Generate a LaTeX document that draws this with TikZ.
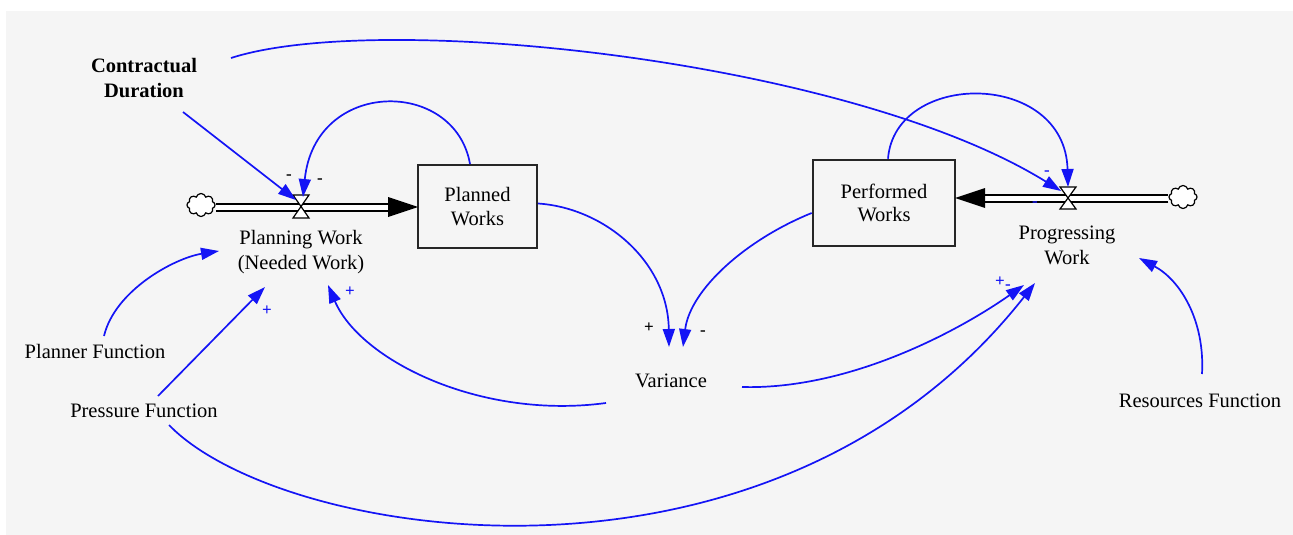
\documentclass[tikz,border=0pt]{standalone}
\usepackage{fontspec}
\setmainfont{Liberation Serif}
\usetikzlibrary{arrows.meta,shapes.symbols,calc}
\definecolor{bggray}{RGB}{245,245,245}
\definecolor{lnkblue}{RGB}{20,20,245}
\tikzset{
  lbl/.style={font=\rmfamily\fontsize{20.5}{25}\selectfont, align=center, inner sep=2pt},
  stock/.style={draw=black!85, line width=2pt, fill=bggray, font=\rmfamily\fontsize{20.5}{23.5}\selectfont, align=center},
  link/.style={draw=lnkblue, line width=1.7pt, -{Triangle[length=18pt,width=12pt]}},
  pipe/.style={draw=black, line width=2pt, double=white, double distance=5pt},
  sgn/.style={font=\rmfamily\fontsize{17}{17}\selectfont\bfseries, inner sep=0pt},
  cloudy/.style={cloud, cloud puffs=8, draw=black, line width=1.2pt, fill=white, minimum width=28pt, minimum height=23pt, inner sep=0pt},
  valve/.style={draw=black, line width=1.2pt, fill=white}
}
\begin{document}
\begin{tikzpicture}[x=1pt,y=-1pt]
\useasboundingbox (0,0) rectangle (1293,535);
\fill[white] (0,0) rectangle (1293,535);
\fill[bggray] (6,11) rectangle (1293,535);

% text nodes
\node[lbl, font=\rmfamily\fontsize{20.5}{25}\selectfont\bfseries] (cd) at (144,78) {Contractual\\Duration};
\node[lbl] (pwk) at (301,252) {Planning Work\\(Needed Work)};
\node[stock, minimum width=119pt, minimum height=83pt] (plw) at (477.5,206.5) {Planned\\Works};
\node[stock, line width=2.6pt, minimum width=142pt, minimum height=86pt] (pfw) at (884,203) {Performed\\Works};
\node[lbl] (prw) at (1067,245) {Progressing\\Work};
\node[lbl] (var) at (671,381) {Variance};
\node[lbl] (plf) at (95,351) {Planner Function};
\node[lbl] (prf) at (144,411) {Pressure Function};
\node[lbl] (rsf) at (1200,401) {Resources Function};

% clouds and valves
\coordinate (v1) at (301,207);
\coordinate (v2) at (1068,198);
\coordinate (p1end) at (418,207);
\coordinate (p2end) at (955,198);
\node[cloudy] (c1) at (201,205) {};
\node[cloudy] (c2) at (1183,197) {};

% pipes
\draw[pipe] (c1.east |- v1) -- ($(p1end)+(-28,0)$);
\fill[black] ($(p1end)+(-30,-10)$) -- (p1end) -- ($(p1end)+(-30,10)$) -- cycle;
\draw[pipe] (c2.west |- v2) -- ($(p2end)+(28,0)$);
\fill[black] ($(p2end)+(30,-10)$) -- (p2end) -- ($(p2end)+(30,10)$) -- cycle;

\draw[valve] ($(v1)+(-8,-12)$) -- ($(v1)+(8,-12)$) -- ($(v1)+(-8,11)$) -- ($(v1)+(8,11)$) -- cycle;
\draw[valve] ($(v2)+(-8,-11)$) -- ($(v2)+(8,-11)$) -- ($(v2)+(-8,11)$) -- ($(v2)+(8,11)$) -- cycle;

% links
\draw[link] ($(cd)+(39,34)$) -- ($(v1)+(-5,-7)$);
\draw[link] ($(plw.north)+(-7.5,0)$) .. controls (455,78) and (315,78) .. ($(v1)+(2,-10)$);
\draw[link] ($(cd)+(87,-20)$) .. controls (380,10) and (850,60) .. ($(v2)+(-7,-7)$);
\draw[link] ($(pfw.north)+(4,0)$) .. controls (895,70) and (1065,70) .. ($(v2)+(0,-11)$);
\draw[link] ($(plw.east)+(0,-3)$) .. controls (605,208) and (668,262) .. ($(var)+(-2,-34)$);
\draw[link] ($(pfw.west)+(0,10)$) .. controls (745,240) and (690,290) .. ($(var)+(12,-34)$);
\draw[link] ($(var)+(-65,22)$) .. controls (480,420) and (360,360) .. ($(pwk)+(27,33)$);
\draw[link] ($(var)+(71,6)$) .. controls (850,390) and (960,330) .. ($(prw)+(-43,40)$);
\draw[link] ($(prf)+(25,14)$) .. controls (280,540) and (770,620) .. ($(prw)+(-32,38)$);
\draw[link] ($(prf)+(14,-15)$) -- ($(pwk)+(-36,35)$);
\draw[link] ($(plf)+(9,-15)$) .. controls (115,290) and (175,258) .. ($(pwk)+(-82,-1)$);
\draw[link] ($(rsf)+(2,-27)$) .. controls (1205,320) and (1180,280) .. ($(prw)+(72,13)$);

% polarity signs
\node[sgn] (s1) at (289,177) {-};
\node[sgn] (s2) at (320,181) {-};
\node[sgn, text=lnkblue] (s3) at (1047,173) {-};
\node[sgn, text=lnkblue] (s4) at (1035,204) {-};
\node[sgn] (s5) at (649,328) {+};
\node[sgn] (s6) at (703,333) {-};
\node[sgn, text=lnkblue] (s7) at (1000,282) {+};
\node[sgn, text=lnkblue] (s8) at (1008,287) {-};
\node[sgn, text=lnkblue] (s9) at (267,311) {+};
\node[sgn, text=lnkblue] (s10) at (350,292) {+};
\end{tikzpicture}
\end{document}
